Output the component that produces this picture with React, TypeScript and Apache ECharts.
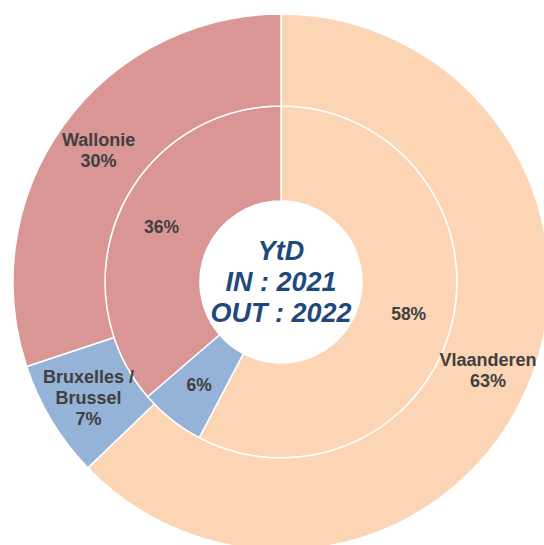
import React, { useEffect, useRef } from "react";
import * as echarts from "echarts";

const regions = ["Vlaanderen", "Bruxelles /\nBrussel", "Wallonie"];
const outerValues = [62.8, 7.1, 30.1]; // OUT : 2022
const innerValues = [57.7, 6.0, 36.3]; // IN : 2021
const colors = ["#FCD5B5", "#95B3D7", "#D99694"];
const centerLines = ["YtD", "IN : 2021", "OUT : 2022"];

const FONT = "'Liberation Sans', Arial, sans-serif";

export default function App() {
  const ref = useRef<HTMLDivElement>(null);
  useEffect(() => {
    document.body.style.margin = "0";
    if (!ref.current) return;
    const chart = echarts.init(ref.current, null, { renderer: "svg" });
    const cx = 281;
    const cy = 282;
    const mk = (vals: number[]) =>
      regions.map((n, i) => ({ name: n, value: vals[i], itemStyle: { color: colors[i] } }));
    chart.setOption({
      animation: false,
      backgroundColor: "#ffffff",
      series: [
        {
          type: "pie",
          center: [cx, cy],
          radius: [81, 176],
          startAngle: 90,
          clockwise: true,
          silent: true,
          data: mk(innerValues),
          itemStyle: { borderColor: "#ffffff", borderWidth: 1.5 },
          label: {
            position: "inside",
            formatter: (p: any) => Math.round(p.percent) + "%",
            color: "#404040",
            fontFamily: FONT,
            fontWeight: "bold",
            fontSize: 17.5,
          },
          labelLine: { show: false },
          emphasis: { disabled: true },
        },
        {
          type: "pie",
          center: [cx, cy],
          radius: [176, 268],
          startAngle: 90,
          clockwise: true,
          silent: true,
          data: mk(outerValues),
          itemStyle: { borderColor: "#ffffff", borderWidth: 1.5 },
          label: {
            position: "inside",
            formatter: (p: any) => p.name + "\n" + Math.round(p.percent) + "%",
            color: "#404040",
            fontFamily: FONT,
            fontWeight: "bold",
            fontSize: 18,
            lineHeight: 21,
            align: "center",
          },
          labelLine: { show: false },
          emphasis: { disabled: true },
        },
      ],
      graphic: [
        {
          type: "text",
          x: cx,
          y: cy,
          silent: true,
          style: {
            text: centerLines.join("\n"),
            fill: "#1F497D",
            font: `italic bold 27px ${FONT}`,
            lineHeight: 31,
            align: "center",
            verticalAlign: "middle",
          },
        },
      ],
    });
    return () => chart.dispose();
  }, []);
  return (
    <div
      ref={ref}
      style={{ position: "absolute", left: 0, top: 0, width: 544, height: 545 }}
    />
  );
}
